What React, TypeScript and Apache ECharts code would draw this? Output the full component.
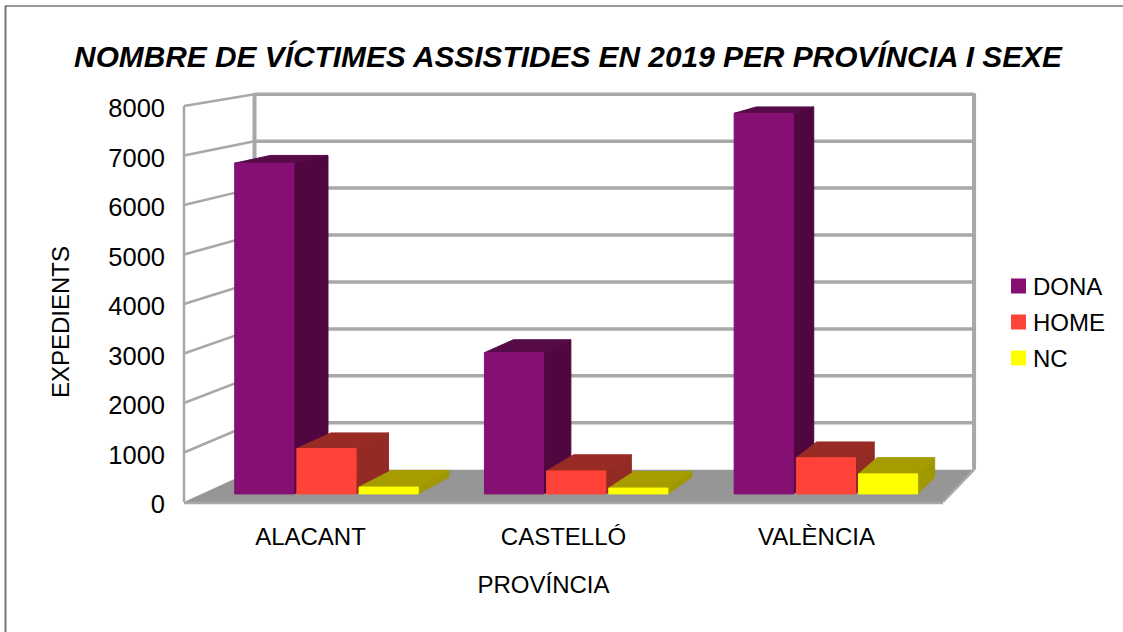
import React, { useEffect, useRef } from "react";
import * as echarts from "echarts";

const categories = ["ALACANT", "CASTELLÓ", "VALÈNCIA"];
const dona = [6770, 2890, 7790];
const home = [930, 470, 740];
const nc = [140, 120, 410];
const ticks = [0, 1000, 2000, 3000, 4000, 5000, 6000, 7000, 8000];

const FONT = "Liberation Sans";
const VP = [1540, -120];
const FLOOR_DEPTH = 0.052;
const BAR_NEAR = 0.013;
const BAR_FAR = 0.04;
const GREY = "#a8a8a8";

const project = (p: number[], t: number) => [p[0] + t * (VP[0] - p[0]), p[1] + t * (VP[1] - p[1])];

const barSeries = (name: string, values: number[], slot: number, front: string, side: string, top: string) => ({
  type: "custom",
  name,
  itemStyle: { color: front },
  encode: { x: 0, y: 1 },
  data: values.map((v, i) => [i, v]),
  z: 3 + slot,
  renderItem: (_: any, api: any) => {
    const band = api.size([1, 0])[0];
    const base = api.coord([api.value(0), 0]);
    const head = api.coord([api.value(0), api.value(1)]);
    const cx = base[0] + slot * band * 0.249;
    const hw = band * 0.1185;
    const x0 = cx - hw;
    const x1 = cx + hw;
    const pts = (a: number[], b: number[], c: number[], d: number[]) => [a, b, c, d];
    const ftl = project([x0, head[1]], BAR_NEAR);
    const ftr = project([x1, head[1]], BAR_NEAR);
    const fbr = project([x1, base[1]], BAR_NEAR);
    const fbl = project([x0, base[1]], BAR_NEAR);
    const btl = project([x0, head[1]], BAR_FAR);
    const btr = project([x1, head[1]], BAR_FAR);
    const bbr = project([x1, base[1]], BAR_FAR);
    const poly = (points: number[][], color: string) => ({
      type: "polygon",
      shape: { points },
      style: { fill: color, stroke: color, lineWidth: 1, lineJoin: "round" },
    });
    return {
      type: "group",
      children: [
        poly(pts(ftr, btr, bbr, fbr), side),
        poly(pts(ftl, btl, btr, ftr), top),
        poly(pts(ftl, ftr, fbr, fbl), front),
      ],
    };
  },
});

const wallSeries = {
  type: "custom",
  name: "walls",
  encode: { x: 0, y: 1 },
  data: ticks.map((v) => [0, v]),
  z: 1,
  silent: true,
  renderItem: (_: any, api: any) => {
    const band = api.size([1, 0])[0];
    const v = api.value(1);
    const p = api.coord([0, v]);
    const left = p[0] - band / 2;
    const right = left + band * categories.length;
    const fl = [left, p[1]];
    const bl = project(fl, FLOOR_DEPTH);
    const br = project([right, p[1]], FLOOR_DEPTH);
    const line = (a: number[], b: number[], w: number) => ({
      type: "line",
      shape: { x1: a[0], y1: a[1], x2: b[0], y2: b[1] },
      style: { stroke: GREY, lineWidth: w },
    });
    const children: any[] = [];
    if (v === 0) {
      const top = api.coord([0, 8000]);
      const ftl = [left, top[1]];
      const btl = project(ftl, FLOOR_DEPTH);
      const btr = project([right, top[1]], FLOOR_DEPTH);
      children.push(
        { type: "polygon", shape: { points: [fl, bl, br, [right, p[1]]] }, style: { fill: "#969696" } },
        line([left, p[1] + 1], [right, p[1] + 1], 2.5),
        line([br[0], br[1]], [right, p[1]], 2.5),
        line(fl, ftl, 2.5),
        line([btl[0], btl[1] - 1], bl, 4),
        line([btr[0], btr[1] - 1], br, 4)
      );
    } else {
      children.push(line(fl, bl, 2.5), line(bl, br, 3.5));
    }
    return { type: "group", children };
  },
};

export default function App() {
  const ref = useRef<HTMLDivElement>(null);
  useEffect(() => {
    const chart = echarts.init(ref.current!, null, { renderer: "svg" });
    chart.setOption({
      animation: false,
      backgroundColor: "#ffffff",
      textStyle: { fontFamily: FONT, color: "#000" },
      title: {
        text: "NOMBRE DE VÍCTIMES ASSISTIDES EN 2019 PER PROVÍNCIA I SEXE",
        left: 563,
        top: 36,
        textAlign: "center",
        textStyle: { fontFamily: FONT, fontSize: 29.85, fontWeight: "bold", fontStyle: "italic", color: "#000" },
      },
      legend: {
        orient: "vertical",
        left: 1006,
        top: 269,
        itemWidth: 15,
        itemHeight: 15,
        itemGap: 12,
        icon: "rect",
        data: ["DONA", "HOME", "NC"],
        textStyle: { fontFamily: FONT, fontSize: 24, color: "#000", padding: [0, 0, 0, 2] },
      },
      grid: { left: 184, top: 106, width: 759, height: 396, containLabel: false },
      xAxis: {
        type: "category",
        data: categories,
        axisLine: { show: false },
        axisTick: { show: false },
        axisLabel: { fontFamily: FONT, fontSize: 24, color: "#000", margin: 22 },
        name: "PROVÍNCIA",
        nameLocation: "middle",
        nameGap: 70,
        nameTextStyle: { fontFamily: FONT, fontSize: 24, color: "#000", padding: [0, 40, 0, 0] },
      },
      yAxis: {
        type: "value",
        min: 0,
        max: 8000,
        interval: 1000,
        axisLine: { show: false },
        axisTick: { show: false },
        splitLine: { show: false },
        axisLabel: {
          fontFamily: FONT,
          fontSize: 25.5,
          color: "#000",
          margin: 19,
          formatter: (v: number) => `{n|${v}}`,
          rich: { n: { fontFamily: FONT, fontSize: 25.5, color: "#000", padding: [4, 0, 0, 0] } },
        },
        name: "EXPEDIENTS",
        nameLocation: "middle",
        nameGap: 112,
        nameTextStyle: { fontFamily: FONT, fontSize: 24, color: "#000", padding: [0, 36, 0, 0] },
      },
      graphic: [
        { type: "line", shape: { x1: 5.5, y1: 6, x2: 5.5, y2: 632 }, style: { stroke: "#777", lineWidth: 2 } },
        { type: "line", shape: { x1: 5, y1: 6, x2: 1123, y2: 6 }, style: { stroke: "#333", lineWidth: 1 } },
      ],
      series: [
        wallSeries,
        barSeries("DONA", dona, -1, "#860f74", "#50063f", "#560a48"),
        barSeries("HOME", home, 0, "#ff4338", "#942a24", "#992b25"),
        barSeries("NC", nc, 1, "#ffff00", "#a09800", "#a69c00"),
      ],
    });
    return () => chart.dispose();
  }, []);
  return <div ref={ref} style={{ position: "absolute", left: 0, top: 0, width: 1123, height: 632 }} />;
}
